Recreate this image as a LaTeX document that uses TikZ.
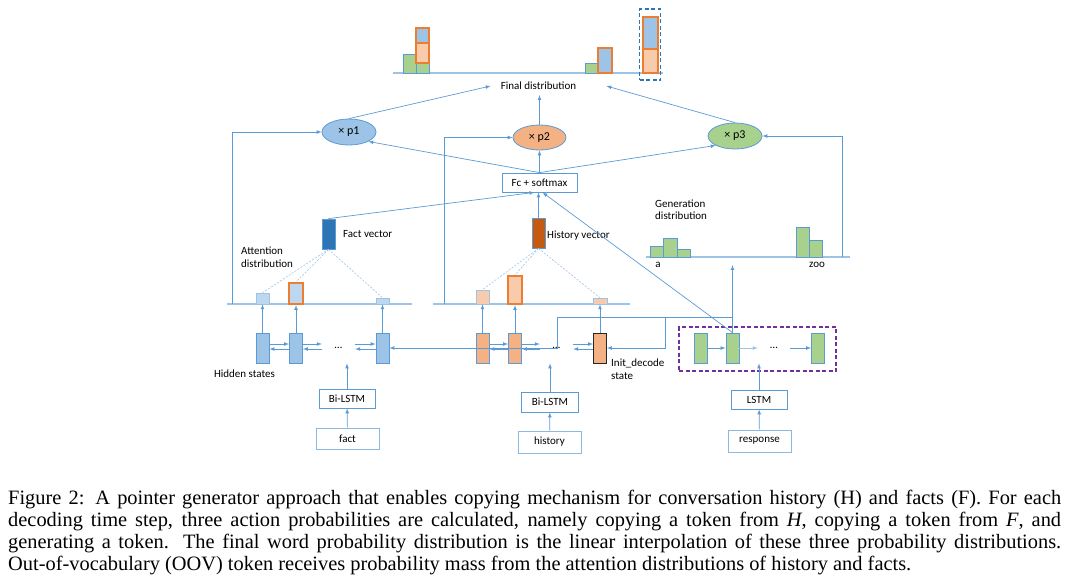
\documentclass[tikz,border=0pt]{standalone}
\usepackage{fontspec}
\setmainfont{Carlito}
\newfontfamily\capfont{Liberation Serif}
\usetikzlibrary{shapes.geometric,positioning}
\definecolor{lnblue}{HTML}{5B9BD5}
\definecolor{lightblue}{HTML}{9DC3E6}
\definecolor{paleblue}{HTML}{BDD7EE}
\definecolor{darkblue}{HTML}{2E75B6}
\definecolor{rust}{HTML}{C55A11}
\definecolor{peach}{HTML}{F4B183}
\definecolor{palepeach}{HTML}{F8CBAD}
\definecolor{orangeline}{HTML}{ED7D31}
\definecolor{leaf}{HTML}{A9D18E}
\definecolor{purpleline}{HTML}{7030A0}

\begin{document}
\begin{tikzpicture}[x=1pt,y=-1pt,every node/.style={font=\fontsize{11}{12.5}\selectfont,align=left,inner sep=0pt},box/.style={draw=lnblue,line width=0.8pt,fill=white,align=center},prob/.style={ellipse,draw=lnblue,line width=0.8pt,minimum width=54pt,minimum height=26pt,font=\fontsize{12}{14}\selectfont},cell/.style={draw=lnblue,line width=0.8pt,minimum width=13pt,minimum height=30pt},bar/.style={draw=lnblue,line width=0.6pt,minimum width=13pt},hot/.style={draw=orangeline,line width=2pt},arr/.style={->,>=latex,line width=0.7pt,draw=lnblue},attn/.style={dash pattern=on 2pt off 1.5pt,line width=0.6pt,draw=lightblue},base/.style={line width=1.6pt,draw=lightblue}]
\useasboundingbox (0,0) rectangle (1071,582);
% final distribution
\draw[base] (393,73) -- (663,73);
\node[bar,fill=leaf,minimum height=19pt] (fa1) at (409.5,63.5) {};
\node[bar,fill=leaf,minimum height=10pt] (fa2) at (422.5,68) {};
\node[bar,hot,fill=palepeach,minimum height=20pt] (fa3) at (422.5,53) {};
\node[bar,hot,fill=lightblue,minimum height=15pt] (fa4) at (422.5,35.5) {};
\node[bar,fill=leaf,minimum height=10pt] (fz1) at (591.5,68) {};
\node[bar,hot,fill=lightblue,minimum width=14pt,minimum height=25pt] (fz2) at (605,60.5) {};
\node[bar,hot,fill=lightblue,minimum width=15pt,minimum height=32pt] (fo1) at (650.5,33) {};
\node[bar,hot,fill=palepeach,minimum width=15pt,minimum height=24pt] (fo2) at (650.5,61) {};
\node[draw=darkblue,dash pattern=on 4pt off 2.5pt,line width=1.2pt,minimum width=21pt,minimum height=71pt] (oov) at (650,44.5) {};
\node[inner xsep=10pt,inner ysep=5pt] (fin) at (538.5,86) {Final distribution};
% mixing weights
\node[prob,fill=lightblue] (p1) at (349,132) {× p1};
\node[prob,fill=peach,minimum width=53pt,minimum height=25pt] (p2) at (539.5,137.5) {× p2};
\node[prob,fill=leaf] (p3) at (735,136) {× p3};
\node[box,minimum width=75pt,minimum height=19pt] (fc) at (539.5,182.5) {Fc + softmax};
% context vectors
\node[cell,fill=darkblue] (fvec) at (328.5,234) {};
\node[anchor=west] (fvecl) at (343,234) {Fact vector};
\node[cell,fill=rust] (hvec) at (538.5,233) {};
\node[anchor=west] (hvecl) at (547,236) {History vector};
\node[anchor=west] (attl) at (241,257) {Attention\\distribution};
% attention distributions
\draw[base] (227,304) -- (412,304);
\draw[base] (433,304) -- (630,304);
\node[bar,fill=paleblue,draw=lightblue,minimum height=11pt] (aF1) at (262.5,298.5) {};
\node[bar,hot,fill=paleblue,minimum width=14pt,minimum height=21pt] (aF2) at (296,293.5) {};
\node[bar,fill=paleblue,draw=lightblue,minimum height=6pt] (aF3) at (382.5,301) {};
\node[bar,fill=palepeach,draw=lightblue,minimum height=14pt] (aH1) at (482.5,297) {};
\node[bar,hot,fill=palepeach,minimum width=14pt,minimum height=28pt] (aH2) at (515,290) {};
\node[bar,fill=palepeach,draw=lightblue,minimum width=14pt,minimum height=6pt] (aH3) at (600,301) {};
% generation distribution
\node[anchor=west] (genl) at (655,209.5) {Generation\\distribution};
\draw[base] (646,257) -- (850,257);
\node[bar,fill=leaf,minimum height=11pt] (gb1) at (656.5,251.5) {};
\node[bar,fill=leaf,minimum width=14pt,minimum height=19pt] (gb2) at (670,247.5) {};
\node[bar,fill=leaf,minimum height=8pt] (gb3) at (683.5,253) {};
\node[bar,fill=leaf,minimum height=30pt] (gb4) at (802.5,242) {};
\node[bar,fill=leaf,minimum height=17pt] (gb5) at (815.5,248.5) {};
\node (al) at (658,265) {a};
\node (zool) at (817,265) {zoo};
% hidden states
\node[cell,fill=lightblue] (hF1) at (262.5,348) {};
\node[cell,fill=lightblue] (hF2) at (296,348) {};
\node[minimum width=33pt] (dotsF) at (338.5,348) {…};
\node[cell,fill=lightblue] (hF3) at (382.5,348) {};
\node[cell,fill=peach] (hH1) at (482.5,348) {};
\node[cell,fill=peach] (hH2) at (515,348) {};
\node[minimum width=33pt] (dotsH) at (556.5,348) {…};
\node[cell,fill=peach,draw=black!85] (init) at (600,348) {};
\node (hidl) at (244.5,374) {Hidden states};
\node[anchor=west] (initl) at (611,369) {Init\_decode\\state};
% decoder
\node[cell,fill=leaf] (g1) at (700.5,348) {};
\node[cell,fill=leaf] (g2) at (732.5,348) {};
\node[minimum width=32pt] (dotsG) at (774,348) {…};
\node[cell,fill=leaf] (g3) at (818,348) {};
\node[draw=purpleline,dash pattern=on 4pt off 2.5pt,line width=1.4pt,minimum width=157pt,minimum height=44pt] (dec) at (757.5,349) {};
% inputs
\node[box,minimum width=56pt,minimum height=19pt] (biF) at (347,398.5) {Bi-LSTM};
\node[box,draw=lnblue!70,minimum width=63pt,minimum height=21pt] (fact) at (347.5,438.5) {fact};
\node[box,minimum width=57pt,minimum height=20pt] (biH) at (550,402) {Bi-LSTM};
\node[box,draw=lnblue!70,minimum width=63pt,minimum height=22pt] (hist) at (549.5,442) {history};
\node[box,minimum width=56pt,minimum height=19pt] (lstm) at (759,399.5) {LSTM};
\node[box,draw=lnblue!70,minimum width=63pt,minimum height=22pt] (resp) at (759.5,441) {response};
\coordinate (genin) at (732.5,265);
% connectors
\draw[arr] (p1.north) -- (fin.west);
\draw[arr] (p2.north) -- (p2.north |- fin.south);
\draw[arr] (p3.north) -- ([xshift=20pt]fin.east);
\draw[arr] (fc.north) -- (p1.south east);
\draw[arr] (fc.north) -- (p2.south);
\draw[arr] (fc.north) -- (p3.south west);
\draw[arr] (232,304) |- (p1.west);
\draw[arr] (444,304) |- (p2.west);
\draw[arr] (842,257) |- (p3.east);
\draw[arr] (fvec.north) -- ([xshift=-5pt]fc.south);
\draw[arr] (hvec.north) -- (hvec.north |- fc.south);
\draw[arr] (g2.north) -- ([xshift=3pt]fc.south);
\draw[arr] (g2.north) -- (genin);
\foreach \a in {aF1,aF2,aF3} \draw[attn] (fvec.south) -- (\a.north);
\foreach \a in {aH1,aH2,aH3} \draw[attn] (hvec.south) -- (\a.north);
\foreach \h/\a in {hF1/aF1,hF2/aF2,hF3/aF3,hH1/aH1,hH2/aH2,init/aH3} \draw[arr] (\h.north) -- (\a.south);
\foreach \l/\r in {hF1/hF2,hF2/dotsF,dotsF/hF3,hH1/hH2,hH2/dotsH,dotsH/init} {
  \draw[arr] ([yshift=4pt]\l.east) -- ([yshift=4pt]\r.west);
  \draw[arr] ([yshift=-1pt]\r.west) -- ([yshift=-1pt]\l.east);
}
\draw[arr] (g1) -- (g2);
\draw[arr,draw=lightblue] (g2.east) -- (dotsG.west);
\draw[arr] (dotsG.east) -- (g3.west);
\draw[arr] (g2.north) |- (557,317) |- (hF3.east);
\draw[arr] (665,317) |- (init.east);
\draw[arr] (fact) -- (biF);
\draw[arr] (biF) -- (biF |- hF1.south);
\draw[arr] (hist) -- (biH);
\draw[arr] (biH) -- (biH |- hH1.south);
\draw[arr] (resp) -- (lstm);
\draw[arr] (lstm) -- (lstm |- g1.south);
% caption
\node[anchor=north west,font=\capfont\fontsize{20.4}{22}\selectfont] (cap) at (8,490) {\makebox[1053pt][s]{Figure 2: A pointer generator approach that enables copying mechanism for conversation history (H) and facts (F). For each}\\
\makebox[1053pt][s]{decoding time step, three action probabilities are calculated, namely copying a token from {\itshape H}, copying a token from {\itshape F}, and}\\
\makebox[1053pt][s]{generating a token. The final word probability distribution is the linear interpolation of these three probability distributions.}\\
Out-of-vocabulary (OOV) token receives probability mass from the attention distributions of history and facts.};
\end{tikzpicture}
\end{document}
